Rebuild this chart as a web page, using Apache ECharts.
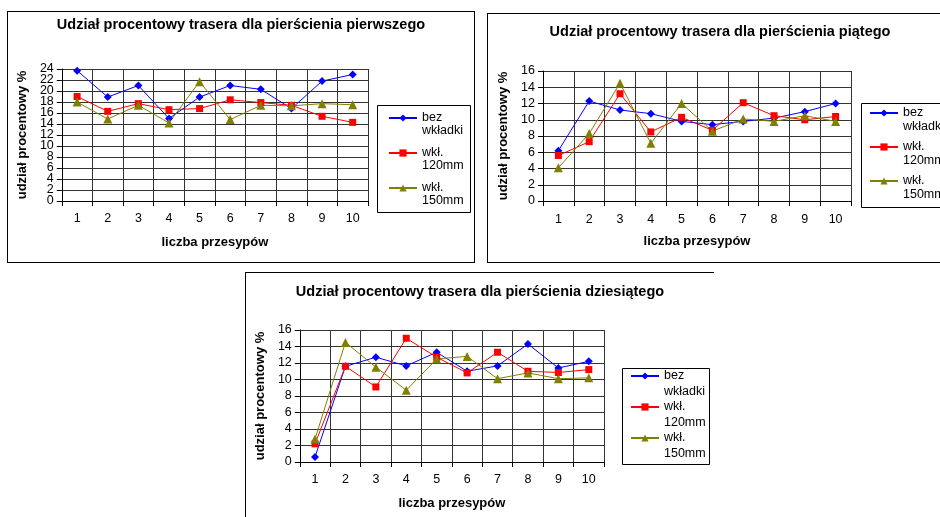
<!DOCTYPE html>
<html>
<head>
<meta charset="utf-8">
<script src="https://cdn.jsdelivr.net/npm/echarts@6/dist/echarts.min.js"></script>
<style>
  html, body { margin: 0; padding: 0; background: #fff; overflow: hidden; width: 940px; height: 517px; }
  .box { position: absolute; border: 1px solid #000; background: #fff; }
  #c1 { left: 7px; top: 11px; width: 466px; height: 250px; }
  #c2 { left: 487px; top: 13px; width: 464px; height: 248px; }
  #c3 { left: 245px; top: 272px; width: 468px; height: 250px; border-right: none; }
</style>
</head>
<body>
<div id="c1" class="box"></div>
<div id="c2" class="box"></div>
<div id="c3" class="box"></div>
<script>
const categories = ['1', '2', '3', '4', '5', '6', '7', '8', '9', '10']
const seriesNames = ['bez wkładki', 'wkł. 120mm', 'wkł. 150mm']

// pierścień pierwszy
const ring1Bez = [23.7, 18.9, 21.0, 15.0, 18.9, 21.0, 20.3, 16.8, 21.8, 23.0]
const ring1W120 = [19.0, 16.3, 17.7, 16.6, 16.8, 18.4, 17.9, 17.4, 15.4, 14.3]
const ring1W150 = [18.0, 14.9, 17.4, 14.2, 21.7, 14.8, 17.4, 17.3, 17.7, 17.5]

// pierścień piąty
const ring5Bez = [6.2, 12.3, 11.2, 10.75, 9.8, 9.4, 9.8, 10.2, 11.0, 12.0]
const ring5W120 = [5.6, 7.3, 13.2, 8.5, 10.3, 8.7, 12.1, 10.5, 10.0, 10.4]
const ring5W150 = [4.1, 8.3, 14.5, 7.1, 12.0, 8.6, 10.1, 9.8, 10.5, 9.8]

// pierścień dziesiąty
const ring10Bez = [0.6, 11.6, 12.7, 11.65, 13.3, 11.0, 11.65, 14.3, 11.4, 12.2]
const ring10W120 = [2.2, 11.6, 9.1, 15.0, 12.7, 10.8, 13.3, 11.0, 10.85, 11.2]
const ring10W150 = [2.8, 14.5, 11.5, 8.7, 12.5, 12.8, 10.1, 10.8, 10.1, 10.2]

const FONT = 'Liberation Sans, Arial, sans-serif'
const GRID_COLOR = '#333'

const makeSeries = (name, data, color, symbol, size) => ({
  name,
  type: 'line',
  data,
  symbol,
  symbolSize: size,
  showSymbol: true,
  animation: false,
  lineStyle: { color, width: 1 },
  itemStyle: { color }
})

const labelStyle = {
  fontFamily: FONT,
  fontSize: 12.5,
  color: '#000',
  margin: 8,
  showMinLabel: true,
  showMaxLabel: true
}

const initChart = (el, cfg) => {
  const chart = echarts.init(el)

  const yMain = {
    type: 'value',
    min: 0,
    max: cfg.yMax,
    interval: 2,
    name: 'udział procentowy %',
    nameLocation: 'middle',
    nameRotate: 90,
    nameGap: cfg.yNameGap,
    nameTextStyle: { fontFamily: FONT, fontSize: 13, fontWeight: 'bold', color: '#000' },
    axisLine: { show: true, lineStyle: { color: '#000', width: 1 } },
    axisTick: { show: true, length: 5, lineStyle: { color: '#000' } },
    axisLabel: { ...labelStyle },
    splitLine: { show: true, lineStyle: { color: GRID_COLOR, width: 1 } }
  }
  const yAxes = [yMain]

  // tight scale (chart 1): labels split over two overlaid axes so none get dropped
  if (cfg.splitLabels) {
    yMain.axisLabel.formatter = (v) => (v % 4 === 0 ? String(v) : '')
    yAxes.push({
      type: 'value',
      position: 'left',
      min: 0,
      max: cfg.yMax,
      interval: 2,
      axisLine: { show: false },
      axisTick: { show: false },
      splitLine: { show: false },
      axisLabel: { ...labelStyle, formatter: (v) => (v % 4 === 2 ? String(v) : '') }
    })
  }

  const option = {
    animation: false,
    textStyle: { fontFamily: FONT, color: '#000' },
    title: {
      text: cfg.title,
      left: 'center',
      top: cfg.titleTop,
      padding: 0,
      textStyle: { fontFamily: FONT, fontSize: 14.5, fontWeight: 'bold', color: '#000' }
    },
    grid: cfg.grid,
    legend: {
      orient: 'vertical',
      left: cfg.legend.left,
      top: cfg.legend.top,
      padding: 0,
      itemGap: cfg.legend.gap,
      itemWidth: 28,
      itemHeight: 9,
      selectedMode: false,
      data: seriesNames,
      // leading empty line keeps the icon level with the first text line
      formatter: (n) => '\n' + n.replace(' ', '\n'),
      textStyle: {
        fontFamily: FONT,
        fontSize: 12.5,
        color: '#000',
        lineHeight: cfg.legend.lineHeight
      }
    },
    graphic: [{
      type: 'rect',
      shape: cfg.legendBox,
      style: { fill: '#fff', stroke: '#000', lineWidth: 1 },
      z: -1,
      silent: true
    }],
    xAxis: {
      type: 'category',
      data: categories,
      boundaryGap: true,
      name: 'liczba przesypów',
      nameLocation: 'middle',
      nameGap: cfg.xNameGap,
      nameTextStyle: { fontFamily: FONT, fontSize: 13, fontWeight: 'bold', color: '#000' },
      axisLine: { lineStyle: { color: '#000', width: 1 } },
      axisTick: { show: true, length: 5, lineStyle: { color: '#000' } },
      axisLabel: { fontFamily: FONT, fontSize: 12.5, color: '#000', margin: cfg.xLabelMargin },
      splitLine: { show: true, lineStyle: { color: GRID_COLOR, width: 1 } }
    },
    yAxis: yAxes,
    series: [
      makeSeries(seriesNames[0], cfg.data[0], '#0000ff', 'diamond', 8),
      makeSeries(seriesNames[1], cfg.data[1], '#ff0000', 'rect', 7),
      makeSeries(seriesNames[2], cfg.data[2], '#808000', 'triangle', 9)
    ]
  }
  chart.setOption(option)
  return chart
}

initChart(document.getElementById('c1'), {
  title: 'Udział procentowy trasera dla pierścienia pierwszego',
  titleTop: 5,
  grid: { left: 45, top: 57, width: 315, height: 132 },
  yMax: 24,
  splitLabels: true,
  xNameGap: 35,
  yNameGap: 29,
  xLabelMargin: 11,
  legend: { left: 380, top: 87, gap: -3, lineHeight: 12.5 },
  legendBox: { x: 369.5, y: 93.5, width: 93, height: 107 },
  data: [ring1Bez, ring1W120, ring1W150]
})

initChart(document.getElementById('c2'), {
  title: 'Udział procentowy trasera dla pierścienia piątego',
  titleTop: 10,
  grid: { left: 55, top: 57, width: 308, height: 130 },
  yMax: 16,
  xNameGap: 34,
  yNameGap: 32,
  xLabelMargin: 12,
  legend: { left: 381, top: 78, gap: -8, lineHeight: 14 },
  legendBox: { x: 373.5, y: 89.5, width: 100, height: 104 },
  data: [ring5Bez, ring5W120, ring5W150]
})

initChart(document.getElementById('c3'), {
  title: 'Udział procentowy trasera dla pierścienia dziesiątego',
  titleTop: 11,
  grid: { left: 45, top: 57, width: 313, height: 132 },
  yMax: 16,
  xNameGap: 35,
  yNameGap: 29,
  xLabelMargin: 11,
  legend: { left: 384, top: 79, gap: -17, lineHeight: 16 },
  legendBox: { x: 376.5, y: 95.5, width: 87, height: 96 },
  data: [ring10Bez, ring10W120, ring10W150]
})
</script>
</body>
</html>
